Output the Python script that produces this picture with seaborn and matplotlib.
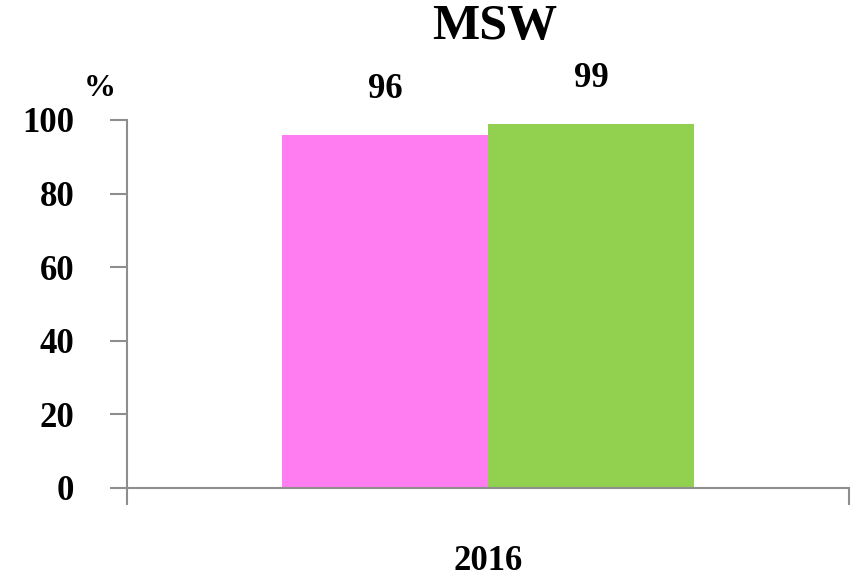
import numpy as np
import pandas as pd
import matplotlib
matplotlib.use("Agg")
import matplotlib.pyplot as plt
from matplotlib.ticker import FixedLocator
import seaborn as sns

# chart data
years = ["2016", "2016"]
series = ["Series 1", "Series 2"]
values = [96, 99]
colors = ["#FF7DF0", "#92D050"]
yticks = [0, 20, 40, 60, 80, 100]

sns.set_style("white")
plt.rcParams['font.family'] = ['Liberation Serif', 'DejaVu Serif']
plt.rcParams['font.weight'] = 'bold'
plt.rcParams['text.color'] = 'black'
plt.rcParams['xtick.labelcolor'] = 'black'
plt.rcParams['ytick.labelcolor'] = 'black'

df = pd.DataFrame({"year": years, "series": series, "value": values})

fig = plt.figure(figsize=(8.62, 5.8), dpi=100)
ax = fig.add_axes([127 / 862, 1 - 488 / 580, (849 - 127) / 862, (488 - 120) / 580])

sns.barplot(data=df, x="year", y="value", hue="series", palette=colors,
            width=0.57, saturation=1, linewidth=0, legend=False, ax=ax)

ax.set_xlim(-0.5, 0.5)
ax.set_ylim(0, 100)
ax.set_yticks(yticks)
ax.set_xlabel("")
ax.set_ylabel("")

axis_grey = "#8E8E8E"
for side in ["top", "right"]:
    ax.spines[side].set_visible(False)
for side in ["left", "bottom"]:
    ax.spines[side].set_color(axis_grey)
    ax.spines[side].set_linewidth(1.5)

ax.tick_params(axis="y", direction="out", length=12, width=1.5, color=axis_grey,
               labelsize=25, labelcolor="black", pad=26, left=True)
ax.tick_params(axis="x", which="major", length=0, labelsize=25,
               labelcolor="black", pad=41)
ax.xaxis.set_minor_locator(FixedLocator([-0.5, 0.5]))
ax.tick_params(axis="x", which="minor", direction="out", length=12, width=1.5,
               color=axis_grey, bottom=True)
for lab in ax.get_xticklabels() + ax.get_yticklabels():
    lab.set_fontweight("bold")

# value labels above bars
for cont in ax.containers:
    ax.bar_label(cont, labels=[f"{v:.0f}" for v in cont.datavalues],
                 padding=21, fontsize=25, fontweight="bold", color="black")

fig.text(495 / 862, 1 - 27 / 580, "MSW", ha="center", va="center",
         fontsize=36, fontweight="bold", color="black")
fig.text(100 / 862, 1 - 89 / 580, "%", ha="center", va="center",
         fontsize=23, fontweight="bold", color="black")

fig.savefig("out.png", dpi=100)
